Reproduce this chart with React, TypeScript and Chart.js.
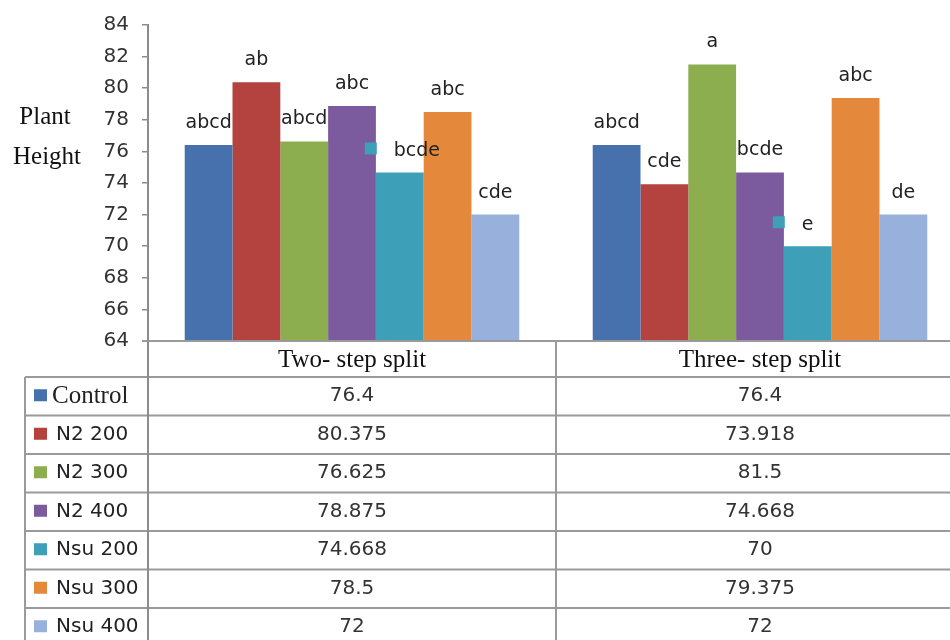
import React, { useEffect, useRef } from "react";
import { Chart, registerables } from "chart.js";

Chart.register(...registerables);

// Categories along the x axis
const categories = ["Two- step split", "Three- step split"];

// Treatment series (plant height)
const seriesNames = ["Control", "N2 200", "N2 300", "N2 400", "Nsu 200", "Nsu 300", "Nsu 400"];
const control = [76.4, 76.4];
const n2_200 = [80.375, 73.918];
const n2_300 = [76.625, 81.5];
const n2_400 = [78.875, 74.668];
const nsu_200 = [74.668, 70];
const nsu_300 = [78.5, 79.375];
const nsu_400 = [72, 72];

// Significance letters shown above each bar
const lettersControl = ["abcd", "abcd"];
const lettersN2_200 = ["ab", "cde"];
const lettersN2_300 = ["abcd", "a"];
const lettersN2_400 = ["abc", "bcde"];
const lettersNsu_200 = ["bcde", "e"];
const lettersNsu_300 = ["abc", "abc"];
const lettersNsu_400 = ["cde", "de"];

// Y axis range
const yMin = 64;
const yMax = 84;
const yStep = 2;

const seriesValues = [control, n2_200, n2_300, n2_400, nsu_200, nsu_300, nsu_400];
const seriesLetters = [
  lettersControl,
  lettersN2_200,
  lettersN2_300,
  lettersN2_400,
  lettersNsu_200,
  lettersNsu_300,
  lettersNsu_400,
];
const colors = ["#4671AD", "#B4423F", "#8CAE4E", "#7B5A9E", "#3E9FB8", "#E4893C", "#98B1DC"];

const SANS = '"DejaVu Sans", Verdana, sans-serif';
const SERIF = '"Liberation Serif", "Times New Roman", serif';
const LINE = "#9a9a9a";

// Letters above bars; the Nsu 200 labels carry a small legend key
const letterPlugin = {
  id: "letterLabels",
  afterDatasetsDraw(chart: any) {
    const { ctx } = chart;
    ctx.save();
    ctx.font = `19px ${SANS}`;
    ctx.fillStyle = "#222";
    ctx.textBaseline = "middle";
    seriesLetters.forEach((letters, i) => {
      const meta = chart.getDatasetMeta(i);
      meta.data.forEach((bar: any, j: number) => {
        const text = letters[j];
        if (i === 4) {
          ctx.fillStyle = colors[i];
          ctx.fillRect(bar.x - 35, bar.y - 30, 12, 12);
          ctx.fillStyle = "#222";
          ctx.textAlign = "left";
          ctx.fillText(text, bar.x - 6, bar.y - 21);
        } else {
          ctx.textAlign = "center";
          ctx.fillText(text, bar.x, bar.y - 22);
        }
      });
    });
    ctx.restore();
  },
};

// Axis title plus the data table under the plot
const tablePlugin = {
  id: "dataTable",
  afterDraw(chart: any) {
    const { ctx, chartArea } = chart;
    const xs = chart.scales.x;
    const W = chart.width;
    const H = chart.height;
    const top = chartArea.bottom;
    const axisX = chartArea.left;
    const headerH = 36;
    const rowH = 38.5;
    const tableLeft = 25;
    const rowsTop = top + headerH;
    const c0 = xs.getPixelForValue(0);
    const c1 = xs.getPixelForValue(1);
    const midX = (c0 + c1) / 2;
    const centers = [c0, c1];

    ctx.save();

    // y axis title
    ctx.font = `25px ${SERIF}`;
    ctx.fillStyle = "#111";
    ctx.textAlign = "center";
    ctx.textBaseline = "middle";
    ctx.fillText("Plant", 45, 117);
    ctx.fillText("Height", 47, 157);

    // table grid
    ctx.strokeStyle = LINE;
    ctx.lineWidth = 2;
    ctx.beginPath();
    ctx.moveTo(axisX - 6, top);
    ctx.lineTo(W, top);
    for (let r = 0; r < seriesNames.length; r++) {
      const y = rowsTop + r * rowH;
      ctx.moveTo(tableLeft, y);
      ctx.lineTo(W, y);
    }
    ctx.moveTo(tableLeft, rowsTop);
    ctx.lineTo(tableLeft, H);
    ctx.moveTo(midX, top);
    ctx.lineTo(midX, H);
    ctx.stroke();

    ctx.strokeStyle = "#8c8c8c";
    ctx.beginPath();
    ctx.moveTo(axisX, top);
    ctx.lineTo(axisX, H);
    ctx.stroke();

    // header row: category names
    ctx.font = `25px ${SERIF}`;
    ctx.fillStyle = "#111";
    ctx.textAlign = "center";
    ctx.textBaseline = "middle";
    categories.forEach((c, j) => ctx.fillText(c, centers[j], top + headerH / 2 + 1));

    // series rows
    seriesNames.forEach((name, i) => {
      const cy = rowsTop + i * rowH + rowH / 2;
      ctx.fillStyle = colors[i];
      ctx.fillRect(34, cy - 7, 13, 12);
      ctx.textAlign = "left";
      ctx.fillStyle = "#222";
      ctx.font = i === 0 ? `25px ${SERIF}` : `20px ${SANS}`;
      ctx.fillText(name, i === 0 ? 52 : 56, cy);
      ctx.textAlign = "center";
      ctx.fillStyle = "#333";
      ctx.font = `20px ${SANS}`;
      seriesValues[i].forEach((v, j) => ctx.fillText(String(v), centers[j], cy));
    });

    ctx.restore();
  },
};

export default function App() {
  const canvasRef = useRef<HTMLCanvasElement | null>(null);

  useEffect(() => {
    if (!canvasRef.current) return;
    Chart.defaults.font.family = SANS;
    const chart = new Chart(canvasRef.current, {
      type: "bar",
      data: {
        labels: categories,
        datasets: seriesNames.map((name, i) => ({
          label: name,
          data: seriesValues[i],
          backgroundColor: colors[i],
          borderWidth: 0,
          categoryPercentage: 0.82,
          barPercentage: 1,
        })),
      },
      options: {
        responsive: false,
        animation: false,
        layout: { padding: { top: 20, bottom: 299, left: 0, right: 2 } },
        plugins: {
          legend: { display: false },
          tooltip: { enabled: false },
          title: { display: false },
        },
        scales: {
          x: { display: false },
          y: {
            min: yMin,
            max: yMax,
            ticks: {
              stepSize: yStep,
              color: "#333",
              font: { size: 20, family: SANS },
              padding: 13,
            },
            grid: {
              drawOnChartArea: false,
              tickLength: 6,
              color: "#8c8c8c",
              lineWidth: 1.5,
            },
            border: { display: true, color: "#8c8c8c", width: 2 },
            afterFit(scale: any) {
              scale.width = 148;
            },
          },
        },
      },
      plugins: [letterPlugin, tablePlugin],
    });
    return () => chart.destroy();
  }, []);

  return (
    <div
      style={{
        position: "fixed",
        left: 0,
        top: 0,
        width: 950,
        height: 640,
        overflow: "hidden",
        background: "#fff",
      }}
    >
      <canvas ref={canvasRef} width={966} height={640} style={{ display: "block" }} />
    </div>
  );
}
